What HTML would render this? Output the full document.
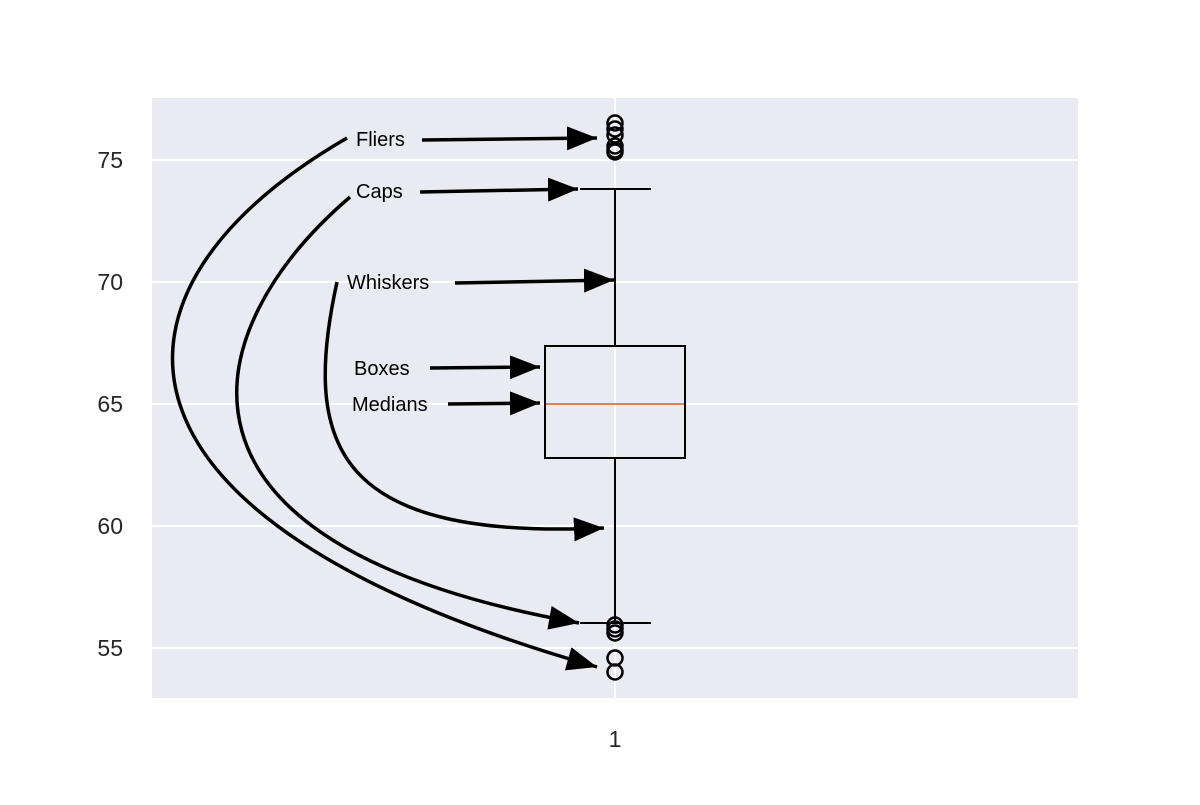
<!DOCTYPE html>
<html><head><style>html,body{margin:0;padding:0;background:#fff}</style></head><body>
<svg width="1200" height="800" xmlns="http://www.w3.org/2000/svg" font-family="Liberation Sans, sans-serif">
<defs>
<marker id="a" markerUnits="userSpaceOnUse" markerWidth="32" markerHeight="26" refX="30" refY="12" orient="auto">
<path d="M0,0 L30,12 L0,24 z" fill="#000"/>
</marker>
</defs>
<rect x="152" y="98" width="926" height="600" fill="#eaeaf2"/>
<g stroke="#fff" stroke-width="2">
<line x1="152" y1="160" x2="1078" y2="160"/>
<line x1="152" y1="282" x2="1078" y2="282"/>
<line x1="152" y1="404" x2="1078" y2="404"/>
<line x1="152" y1="526" x2="1078" y2="526"/>
<line x1="152" y1="648" x2="1078" y2="648"/>
<line x1="615" y1="98" x2="615" y2="698"/>
</g>
<g fill="#262626" font-size="23" text-anchor="end">
<text x="123" y="168">75</text>
<text x="123" y="290">70</text>
<text x="123" y="412">65</text>
<text x="123" y="534">60</text>
<text x="123" y="656">55</text>
</g>
<text x="615" y="747" font-size="23" fill="#262626" text-anchor="middle">1</text>
<g stroke="#000" stroke-width="2" fill="none">
<line x1="615" y1="189" x2="615" y2="346"/>
<line x1="615" y1="458" x2="615" y2="623"/>
<line x1="580" y1="189" x2="651" y2="189"/>
<line x1="580" y1="623" x2="651" y2="623"/>
<rect x="545" y="346" width="140" height="112"/>
</g>
<line x1="546" y1="404" x2="684" y2="404" stroke="#dd8452" stroke-width="2"/>
<g stroke="#000" stroke-width="2.5" fill="none">
<circle cx="615" cy="123" r="7.5"/><circle cx="615" cy="129" r="7.5"/><circle cx="615" cy="135" r="7.5"/>
<circle cx="615" cy="146" r="7.5"/><circle cx="615" cy="150" r="7.5"/><circle cx="615" cy="152" r="7.5"/>
<circle cx="615" cy="625" r="7.5"/><circle cx="615" cy="629" r="7.5"/><circle cx="615" cy="633" r="7.5"/>
<circle cx="615" cy="658" r="7.5"/><circle cx="615" cy="672" r="7.5"/>
</g>
<g stroke="#000" stroke-width="3.5" fill="none" marker-end="url(#a)">
<line x1="422" y1="140" x2="597" y2="138"/>
<line x1="420" y1="192" x2="578" y2="189"/>
<line x1="455" y1="283" x2="614" y2="280"/>
<line x1="430" y1="368" x2="540" y2="367"/>
<line x1="448" y1="404" x2="540" y2="403"/>
<path d="M347,138 C85,290 80,520 597,667"/>
<path d="M350,197 C195,330 140,545 579,623"/>
<path d="M337,282 C300,450 340,540 604,528"/>
</g>
<g font-size="20" fill="#000">
<text x="356" y="146">Fliers</text>
<text x="356" y="198">Caps</text>
<text x="347" y="289">Whiskers</text>
<text x="354" y="375">Boxes</text>
<text x="352" y="411">Medians</text>
</g>
</svg>
</body></html>
